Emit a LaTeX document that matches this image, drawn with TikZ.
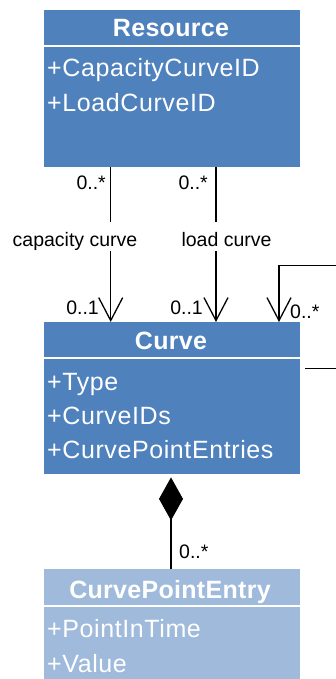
\documentclass[tikz,border=0pt]{standalone}
\usepackage{fontspec}
\setmainfont{Liberation Sans}
\usetikzlibrary{arrows.meta}
\definecolor{umlblue}{HTML}{4F81BD}
\definecolor{umllight}{HTML}{A0BADB}
\begin{document}
\begin{tikzpicture}[x=1pt,y=-1pt,
  classbox/.style={fill=umlblue, draw=none, anchor=north west, minimum width=256pt, inner sep=0pt},
  divider/.style={draw=white, line width=1.6pt},
  titletext/.style={anchor=base, inner sep=0pt, text=white, font=\bfseries\fontsize{25}{30}\selectfont\addfontfeature{LetterSpace=1.2}},
  attrtext/.style={anchor=base west, inner sep=0pt, text=white, font=\fontsize{25}{30}\selectfont\addfontfeature{LetterSpace=2.4}},
  lbl/.style={inner sep=0pt, font=\fontsize{19.5}{23}\selectfont},
  rolelbl/.style={lbl, anchor=base, fill=white, text height=24pt, text depth=5pt},
  assoc/.style={draw=black, line width=1.3pt, -{Straight Barb[length=23pt,width=24pt]}},
  comp/.style={draw=black, line width=1.3pt, {Diamond[length=43pt,width=24pt]}-}
]
\useasboundingbox (0,0) rectangle (335,679);

% class boxes
\node[classbox, minimum height=157pt] (res) at (44,10) {};
\node[classbox, minimum height=152pt] (cur) at (44,322) {};
\node[classbox, fill=umllight, minimum height=115pt] (cpe) at (44,569) {};

% dividers
\draw[divider] ([yshift=-36pt]res.north west) -- ([yshift=-36pt]res.north east);
\draw[divider] ([yshift=-36pt]cur.north west) -- ([yshift=-36pt]cur.north east);
\draw[divider] ([yshift=-37pt]cpe.north west) -- ([yshift=-37pt]cpe.north east);

% titles
\node[titletext] (resT) at (171,37) {Resource};
\node[titletext] (curT) at (171,349) {Curve};
\node[titletext] (cpeT) at (170,598) {CurvePointEntry};

% attributes
\node[attrtext] (resA1) at (47,77) {+CapacityCurveID};
\node[attrtext] (resA2) at (47,112) {+LoadCurveID};
\node[attrtext] (curA1) at (47,390) {+Type};
\node[attrtext] (curA2) at (47,424) {+CurveIDs};
\node[attrtext] (curA3) at (47,458) {+CurvePointEntries};
\node[attrtext] (cpeA1) at (47,637) {+PointInTime};
\node[attrtext] (cpeA2) at (47,672) {+Value};

% associations Resource -> Curve
\draw[assoc] ([xshift=66.7pt]res.south west) -- ([xshift=66.7pt]cur.north west);
\draw[assoc] ([xshift=172pt]res.south west) -- ([xshift=172pt]cur.north west);
\node[rolelbl] (capL) at (75,246) {capacity curve};
\node[rolelbl] (loadL) at (226.5,246) {load curve};

% self association
\coordinate (selfA) at ([xshift=5pt,yshift=30pt]cur.east);
\draw[assoc] (selfA) -- ++(50,0) -- ++(0,-103) -| ([xshift=235pt]cur.north west);

% composition
\draw[comp] ([xshift=127pt,yshift=-3pt]cur.south west) -- ([xshift=127pt]cpe.north west);

% multiplicities
\node[lbl, anchor=base east] (m1) at (106,189) {0..*};
\node[lbl, anchor=base east] (m2) at (208,189) {0..*};
\node[lbl, anchor=base east] (m3) at (99,314) {0..1};
\node[lbl, anchor=base east] (m4) at (203,314) {0..1};
\node[lbl, anchor=base west] (m5) at (290,318) {0..*};
\node[lbl, anchor=base west] (m6) at (179,558) {0..*};
\end{tikzpicture}
\end{document}
